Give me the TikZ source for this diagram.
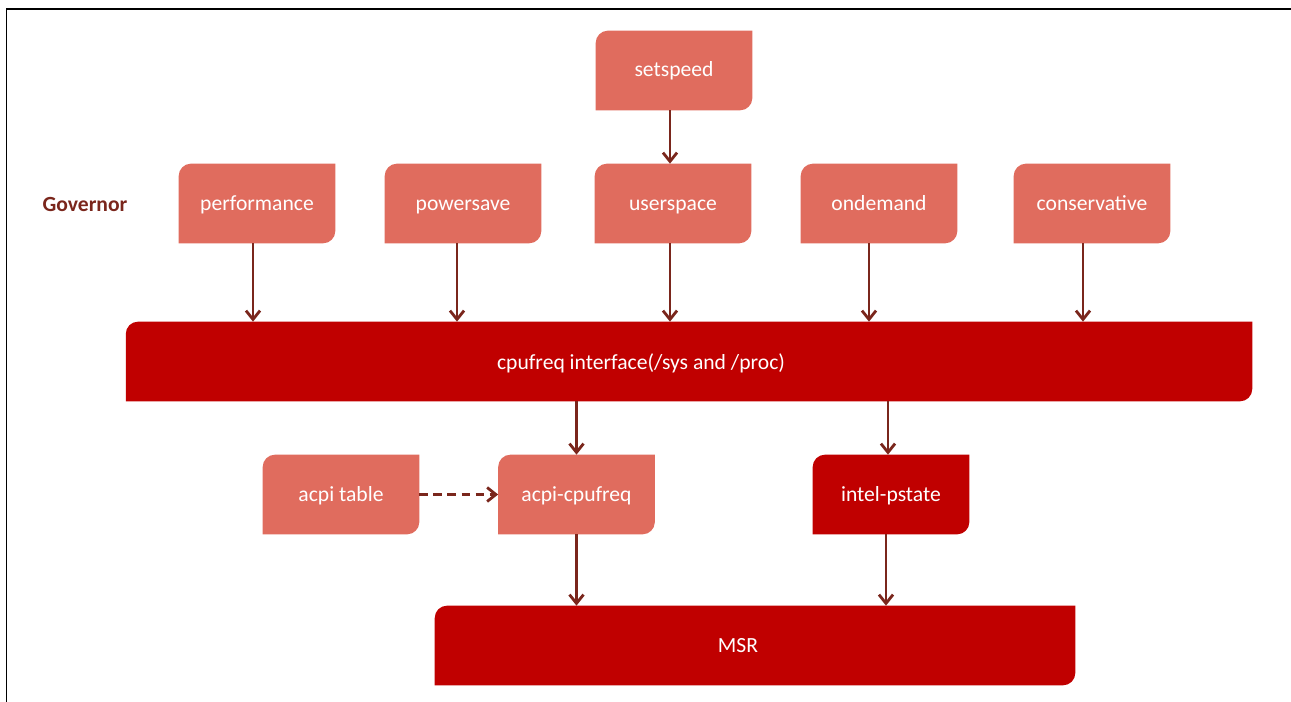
\documentclass[tikz,border=0pt]{standalone}
\usepackage{fontspec}
\setmainfont{Carlito}
\usetikzlibrary{arrows.meta}
\usetikzlibrary{backgrounds}

\definecolor{govfill}{RGB}{224,108,94}
\definecolor{drvfill}{RGB}{192,0,0}
\definecolor{linkcol}{RGB}{122,38,28}

\tikzset{
  boxfont/.style={font=\fontsize{12.3}{15}\selectfont},
  govbox/.style={boxfont, minimum width=3.12cm, minimum height=1.58cm, inner sep=0pt, text=white, text height=2ex, text depth=0.45ex},
  widebox/.style={govbox, minimum width=#1},
  link/.style={draw=linkcol, line width=1.6pt, -{Straight Barb[length=5pt, width=8pt]}},
}

\begin{document}
\begin{tikzpicture}[x=0.02cm, y=-0.02cm]
  \useasboundingbox (0,0) rectangle (1291,702);
  \draw[line width=0.6pt] (6.5,702) -- (6.5,9) -- (1291,9);

  \node[text=linkcol, font=\fontsize{12.3}{15}\selectfont\bfseries] (gov) at (85,204) {Governor};

  \node[govbox] (setspeed) at (674,70.5) {setspeed};
  \node[govbox] (perf) at (257,203.5) {performance};
  \node[govbox] (psave) at (463,203.5) {powersave};
  \node[govbox] (uspace) at (673,203.5) {userspace};
  \node[govbox] (odemand) at (879,203.5) {ondemand};
  \node[govbox] (cons) at (1092,203.5) {conservative};

  \node[widebox=22.52cm, label={[xshift=-0.96cm, yshift=-0.04cm, text=white, boxfont]center:cpufreq interface(/sys and /proc)}] (iface) at (689,361.5) {};

  \node[govbox] (acpitab) at (341,494.5) {acpi table};
  \node[govbox] (acpicpu) at (576.5,494.5) {acpi-cpufreq};
  \node[govbox] (pstate) at (891,494.5) {intel-pstate};

  \node[widebox=12.8cm, label={[xshift=-0.34cm, text=white, boxfont]center:MSR}] (msr) at (755,645.5) {};

  % box fills, rounded at top left and bottom right
  \begin{scope}[on background layer]
    \foreach \n/\c in {setspeed/govfill, perf/govfill, psave/govfill, uspace/govfill, odemand/govfill, cons/govfill, iface/drvfill, acpitab/govfill, acpicpu/govfill, pstate/drvfill, msr/drvfill}
      \fill[\c] (\n.south west) [rounded corners=7pt] -- (\n.north west) [sharp corners] -- (\n.north east) [rounded corners=7pt] -- (\n.south east) [sharp corners] -- cycle;
  \end{scope}

  % governors down to the interface
  \foreach \n/\dx in {perf/-0.08cm, psave/-0.12cm, uspace/-0.06cm, odemand/-0.2cm, cons/-0.18cm}
    \draw[link] ([xshift=\dx]\n.south) coordinate (a) -- (a |- iface.north);
  \draw[link] ([xshift=-0.08cm]setspeed.south) coordinate (a) -- (a |- uspace.north);

  \draw[link] (iface.south -| acpicpu.north) -- (acpicpu.north);
  \path ([xshift=-0.06cm]pstate.north) coordinate (b);
  \draw[link] (b |- iface.south) -- (b);
  \draw[link] (acpicpu.south) -- (acpicpu.south |- msr.north);
  \draw[link] ([xshift=-0.1cm]pstate.south) coordinate (a) -- (a |- msr.north);
  \draw[link, dash pattern=on 5pt off 3pt] (acpitab.east) -- (acpicpu.west);
\end{tikzpicture}
\end{document}
